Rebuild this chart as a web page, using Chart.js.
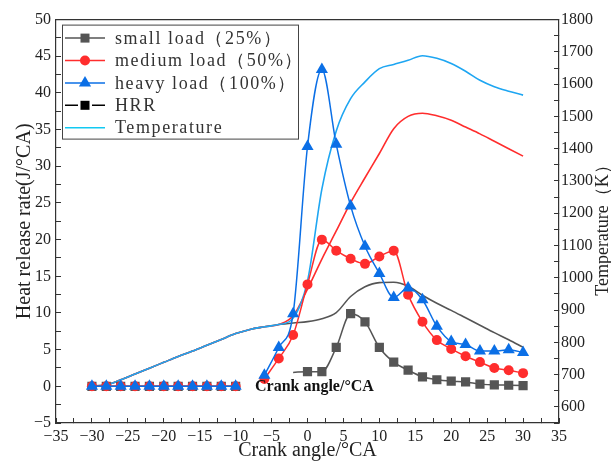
<!DOCTYPE html>
<html>
<head>
<meta charset="utf-8">
<script src="https://cdn.jsdelivr.net/npm/chart.js@4.4.0/dist/chart.umd.min.js"></script>
<style>
  html, body { margin: 0; padding: 0; background: #fff; }
  #wrap { width: 611px; height: 464px; }
</style>
</head>
<body>
<div id="wrap"><canvas id="chart" width="611" height="464"></canvas></div>
<script>
// crank angle before injection (all loads sit on zero there)
const earlyAngles = [-30, -28, -26, -24, -22, -20, -18, -16, -14, -12, -10];
const earlyHrr = [0, 0, 0, 0, 0, 0, 0, 0, 0, 0, 0];

// heat release rate, J/°CA
const smallAngles = [-2, 0, 2, 4, 6, 8, 10, 12, 14, 16, 18, 20, 22, 24, 26, 28, 30];
const smallHrr = [1.9, 2.0, 2.0, 5.3, 9.9, 8.8, 5.3, 3.3, 2.2, 1.3, 0.9, 0.7, 0.6, 0.3, 0.2, 0.15, 0.1];

const loadAngles = [-6, -4, -2, 0, 2, 4, 6, 8, 10, 12, 14, 16, 18, 20, 22, 24, 26, 28, 30];
const mediumHrr = [1.0, 3.8, 7.0, 13.9, 20.0, 18.5, 17.4, 16.7, 17.7, 18.5, 12.5, 8.8, 6.3, 5.1, 4.1, 3.3, 2.5, 2.2, 1.8];
const heavyHrr = [1.5, 5.3, 9.9, 32.7, 43.2, 33.0, 24.6, 19.1, 15.4, 12.1, 13.4, 11.8, 8.2, 6.1, 5.7, 4.8, 4.8, 5.0, 4.6];

// in-cylinder temperature, K
const tempAngles = [-30, -28, -26, -24, -22, -20, -18, -16, -14, -12, -10, -8, -6, -4,
  -2, 0, 2, 4, 6, 8, 10, 12, 14, 16, 18, 20, 22, 24, 26, 28, 30];
const compressionTemp = [665, 668, 684, 702, 720, 738, 756, 773, 791, 809, 827, 840, 848, 855];
const smallTemp = compressionTemp.concat([860, 864, 873, 892, 942, 972, 985, 986, 974, 946, 921, 899, 876, 853, 830, 808, 785]);
const mediumTemp = compressionTemp.concat([882, 965, 1058, 1145, 1233, 1310, 1385, 1462, 1500, 1510, 1502, 1488, 1467, 1446, 1423, 1400, 1377]);
const heavyTemp = compressionTemp.concat([875, 990, 1275, 1455, 1555, 1607, 1648, 1661, 1674, 1688, 1680, 1664, 1640, 1612, 1592, 1578, 1566]);

const seriesLabels = ['small load（25%）', 'medium load（50%）', 'heavy load（100%）'];
const legendLabels = seriesLabels.concat(['HRR', 'Temperature']);

const GRAY = '#555555';
const RED = '#ff2d2d';
const BLUE = '#0b6fe6';
const TEMP_BLUE = '#1ea6f2';
const CYAN = '#12c9f2';
const SERIF = '"Liberation Serif", "Times New Roman", serif';

function pts(xs, ys) {
  return xs.map((x, i) => ({ x: x, y: ys[i] }));
}
function hrrSeries(xs, ys) {
  // null point breaks the line between the early flat part and combustion
  return pts(earlyAngles, earlyHrr).concat([{ x: -8, y: null }], pts(xs, ys));
}
function fmt(v) {
  return v < 0 ? '\u2212' + Math.abs(v) : String(v);
}

function drawMarker(ctx, style, x, y, color) {
  ctx.fillStyle = color;
  ctx.beginPath();
  if (style === 'rect') {
    ctx.rect(x - 4.5, y - 4.5, 9, 9);
  } else if (style === 'circle') {
    ctx.arc(x, y, 5, 0, Math.PI * 2);
  } else if (style === 'triangle') {
    ctx.moveTo(x, y - 7);
    ctx.lineTo(x + 6.1, y + 3.5);
    ctx.lineTo(x - 6.1, y + 3.5);
    ctx.closePath();
  }
  ctx.fill();
}

const extras = {
  id: 'extras',
  afterDraw(chart) {
    const ctx = chart.ctx;
    const area = chart.chartArea;
    const xs = chart.scales.x;
    const ys = chart.scales.y;
    ctx.save();

    // top frame line
    ctx.strokeStyle = '#333';
    ctx.lineWidth = 1.2;
    ctx.beginPath();
    ctx.moveTo(area.left, area.top);
    ctx.lineTo(area.right, area.top);
    ctx.stroke();

    // stray bold label inside the plot
    ctx.fillStyle = '#111';
    ctx.font = 'bold 16px ' + SERIF;
    ctx.textAlign = 'left';
    ctx.textBaseline = 'middle';
    ctx.fillText('Crank angle/°CA', xs.getPixelForValue(-7.3), ys.getPixelForValue(0) + 1);

    // right axis title, reading bottom to top
    ctx.save();
    ctx.translate(603, 226);
    ctx.rotate(-Math.PI / 2);
    ctx.textAlign = 'center';
    ctx.font = '18px ' + SERIF;
    ctx.fillStyle = '#222';
    ctx.fillText('Temperature（K）', 0, 0);
    ctx.restore();

    // legend box
    const bx = area.left + 6, by = area.top + 5, bw = 236, bh = 114;
    ctx.fillStyle = '#fff';
    ctx.fillRect(bx, by, bw, bh);
    ctx.strokeStyle = '#444';
    ctx.lineWidth = 1;
    ctx.strokeRect(bx + 0.5, by + 0.5, bw, bh);

    const styles = [
      { color: GRAY, marker: 'rect' },
      { color: RED, marker: 'circle' },
      { color: BLUE, marker: 'triangle' },
      { color: '#000', marker: 'rect', split: true },
      { color: CYAN, marker: null }
    ];
    ctx.font = '18px ' + SERIF;
    ctx.letterSpacing = '1.6px';
    legendLabels.forEach((label, i) => {
      const st = styles[i];
      const y = by + 13.5 + i * 22.4;
      const x0 = bx + 3, x1 = bx + 43, xm = bx + 23;
      ctx.strokeStyle = st.color;
      ctx.lineWidth = 1.5;
      ctx.beginPath();
      if (st.split) {
        ctx.moveTo(x0, y); ctx.lineTo(xm - 7, y);
        ctx.moveTo(xm + 7, y); ctx.lineTo(x1, y);
      } else {
        ctx.moveTo(x0, y); ctx.lineTo(x1, y);
      }
      ctx.stroke();
      if (st.marker) drawMarker(ctx, st.marker, xm, y, st.color);
      ctx.fillStyle = '#333';
      ctx.textAlign = 'left';
      ctx.textBaseline = 'middle';
      ctx.fillText(label, bx + 53, y + 1);
    });
    ctx.restore();
  }
};

const hrrLine = {
  yAxisID: 'y',
  borderWidth: 1.5,
  pointBorderWidth: 0,
  cubicInterpolationMode: 'monotone',
  spanGaps: false
};
const tempLine = {
  yAxisID: 'y1',
  borderWidth: 1.6,
  pointRadius: 0,
  cubicInterpolationMode: 'monotone'
};

const tickFont = { family: SERIF, size: 16 };

new Chart(document.getElementById('chart'), {
  type: 'line',
  data: {
    datasets: [
      Object.assign({}, hrrLine, {
        label: seriesLabels[2], data: hrrSeries(loadAngles, heavyHrr),
        borderColor: BLUE, backgroundColor: BLUE, pointStyle: 'triangle', pointRadius: 7, order: 0
      }),
      Object.assign({}, hrrLine, {
        label: seriesLabels[1], data: hrrSeries(loadAngles, mediumHrr),
        borderColor: RED, backgroundColor: RED, pointStyle: 'circle', pointRadius: 5, order: 1
      }),
      Object.assign({}, hrrLine, {
        label: seriesLabels[0], data: hrrSeries(smallAngles, smallHrr),
        borderColor: GRAY, backgroundColor: GRAY, pointStyle: 'rect',
        pointRadius: c => (c.raw && c.raw.x === -2 ? 0 : 6.5), order: 2
      }),
      Object.assign({}, tempLine, {
        label: 'T ' + seriesLabels[0], data: pts(tempAngles, smallTemp), borderColor: GRAY, order: 5
      }),
      Object.assign({}, tempLine, {
        label: 'T ' + seriesLabels[1], data: pts(tempAngles, mediumTemp), borderColor: RED, order: 4
      }),
      Object.assign({}, tempLine, {
        label: 'T ' + seriesLabels[2], data: pts(tempAngles, heavyTemp), borderColor: TEMP_BLUE, order: 3
      })
    ]
  },
  options: {
    responsive: false,
    animation: false,
    layout: { padding: { top: 19, left: 0, right: 0, bottom: 0 } },
    plugins: {
      legend: { display: false },
      tooltip: { enabled: false }
    },
    scales: {
      x: {
        type: 'linear',
        position: 'bottom',
        min: -35,
        max: 35,
        afterFit: s => { s.height = 41; },
        ticks: {
          stepSize: 2.5, autoSkip: false, maxRotation: 0, padding: 9,
          color: '#222', font: tickFont,
          callback: v => (v % 5 === 0 ? fmt(v) : '')
        },
        grid: { drawOnChartArea: false, tickLength: -5, color: '#333', tickWidth: 1 },
        border: { color: '#333', width: 1.2 },
        title: {
          display: true, text: 'Crank angle/°CA', color: '#222',
          font: { family: SERIF, size: 20 }, padding: { top: 0, bottom: 1 }
        }
      },
      y: {
        position: 'left',
        min: -5,
        max: 50,
        afterFit: s => { s.width = 56; },
        ticks: {
          stepSize: 2.5, autoSkip: false, padding: 10,
          color: '#222', font: tickFont,
          callback: v => (v % 5 === 0 ? fmt(v) : '')
        },
        grid: { drawOnChartArea: false, tickLength: -5, color: '#333' },
        border: { color: '#333', width: 1.2 },
        title: {
          display: true, text: 'Heat release rate(J/°CA)', color: '#222',
          font: { family: SERIF, size: 20 }, padding: { top: 13, bottom: 0 }
        }
      },
      y1: {
        position: 'right',
        min: 550,
        max: 1800,
        afterFit: s => { s.width = 52; },
        ticks: {
          stepSize: 50, autoSkip: false, padding: 7,
          color: '#222', font: tickFont,
          callback: v => (v % 100 === 0 ? String(v) : '')
        },
        grid: { drawOnChartArea: false, tickLength: -5, color: '#333' },
        border: { color: '#333', width: 1.2 },
        title: { display: false }
      }
    }
  },
  plugins: [extras]
});
</script>
</body>
</html>
